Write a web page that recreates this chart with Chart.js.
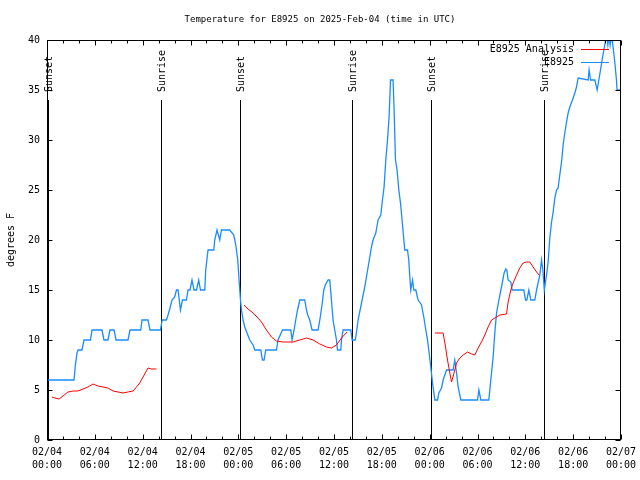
<!DOCTYPE html>
<html><head><meta charset="utf-8">
<script src="https://cdn.jsdelivr.net/npm/chart.js@4/dist/chart.umd.min.js"></script>
<style>html,body{margin:0;padding:0;background:#fff}#wrap{width:640px;height:480px}</style>
</head><body><div id="wrap"><canvas id="c" width="640" height="480"></canvas></div>
<script>
const chartTitle = "Temperature for E8925 on 2025-Feb-04 (time in UTC)";
const yAxisTitle = "degrees F";
const xTickLabels = [["02/04","00:00"],["02/04","06:00"],["02/04","12:00"],["02/04","18:00"],
  ["02/05","00:00"],["02/05","06:00"],["02/05","12:00"],["02/05","18:00"],
  ["02/06","00:00"],["02/06","06:00"],["02/06","12:00"],["02/06","18:00"],["02/07","00:00"]];
const seriesNames = ["E8925 Analysis", "E8925"];
const sunHours = [0.13, 14.3, 24.2, 38.27, 48.15, 62.3];
const sunLabels = ["Sunset","Sunrise","Sunset","Sunrise","Sunset","Sunrise"];

// observed (hours since 02/04 00:00 UTC)
const obsHours = [0,3.39,3.56,3.76,3.89,4.39,4.64,5.45,5.65,6.90,7.15,7.65,7.90,8.41,8.66,10.16,10.41,11.76,11.92,12.67,12.92,14.23,14.45,14.98,15.18,15.40,15.68,16.02,16.24,16.44,16.74,16.99,17.49,17.69,17.94,18.19,18.44,18.75,19.03,19.25,19.79,19.91,20.20,20.92,21.04,21.33,21.67,21.88,22.92,23.43,23.68,23.93,24.09,24.27,24.39,24.59,24.81,25.09,25.43,25.85,26.06,26.81,27.03,27.23,27.44,28.78,28.98,29.54,30.58,30.74,30.99,31.20,31.42,31.71,32.33,32.55,32.71,32.96,33.25,34.00,34.22,34.50,34.72,34.91,35.26,35.47,35.68,35.88,36.09,36.31,36.44,36.85,36.94,37.14,38.11,38.27,38.67,38.86,39.02,39.45,39.86,40.28,40.70,40.90,41.24,41.53,41.87,42.03,42.28,42.50,42.71,42.91,43.09,43.41,43.54,43.71,43.91,44.13,44.34,44.54,44.76,44.88,45.22,45.38,45.51,45.63,45.85,46.01,46.26,46.55,46.98,47.26,47.52,47.73,47.93,48.14,48.36,48.65,48.99,49.15,49.49,49.69,50.11,50.94,51.15,51.37,51.57,51.91,54.00,54.17,54.42,55.42,55.63,55.96,56.17,56.39,56.68,57.01,57.34,57.55,57.68,57.84,58.18,58.34,59.81,60.03,60.19,60.44,60.69,61.19,61.41,61.82,62.03,62.20,62.38,62.66,62.86,63.07,63.29,63.49,63.70,63.91,64.11,64.32,64.54,64.74,64.95,65.17,65.37,65.58,66.00,66.21,66.42,66.62,67.88,68.00,68.18,68.72,69.01,69.22,69.43,69.69,69.85,70.19,70.35,70.49,70.64,70.82,71.02,71.22,71.43,71.51,72];
const obsTemps = [6,6,7.5,8.7,9,9,10,10,11,11,10,10,11,11,10,10,11,11,12,12,11,11,12,12,12.5,13.1,14,14.3,15,15,13,14,14,15,15,16,15,15,16,15,15,17,19,19,20,21,20,21,21,20.5,19.5,18,16,14,13,12,11.3,10.7,10,9.5,9,9,8,8,9,9,10,11,11,10,11,12,13,14,14,13,12.5,12,11,11,12,13.5,15,15.5,16,16,14,12,11,10,9,9,10,11,11,10,10,11,12,13.7,15.3,17.3,19.3,20,20.7,22,22.5,23.7,25.3,28,30,32.3,36,36,33,28,27,25,23.7,22,20,19,19,18,16.3,15,16,15,15,14,13.5,12.3,11,10,8.7,7.3,5.7,4,4,4.7,5.2,6,7,7,8,6.7,5.3,4,4,5,4,4,5.7,8.3,10.7,12.7,14,15.3,16.7,17.1,17,16,15.8,15,15,14,14,15,14,14,15,16.5,18,17,15,16.5,17.8,20.2,21.8,22.8,24.2,25,25.2,26.5,27.8,29.5,30.7,31.8,32.7,33.3,34.2,34.7,35.3,36.2,36,37,36,36,35,36,37,38.3,39,40.5,39.5,40.5,39.5,40.5,39.2,37.8,36,35,35];

// analysis (null = no value)
const anaHours = [0.63,0.97,1.51,2.01,2.63,3.26,3.89,4.52,5.14,5.77,6.40,7.03,7.65,8.28,8.91,9.54,10.16,10.79,11.22,11.63,12.05,12.67,13.10,13.73,19,
  24.72,25.22,25.85,26.47,26.90,27.53,28.16,28.78,29.61,30.87,31.71,32.55,33.38,34.22,35.06,35.68,36.31,36.94,37.64,43,
  48.65,49.69,49.99,50.24,50.53,50.74,50.99,51.37,51.78,52.20,52.75,53.25,53.66,54.08,54.50,54.92,55.33,55.76,56.17,56.80,57.64,57.84,58.18,58.47,58.90,59.31,59.72,60.15,60.56,60.98,61.41,61.73];
const anaTemps = [4.3,4.2,4.1,4.4,4.8,4.9,4.9,5.1,5.3,5.6,5.4,5.3,5.2,4.9,4.8,4.7,4.8,4.9,5.3,5.7,6.3,7.2,7.1,7.1,null,
  13.5,13.1,12.7,12.2,11.8,11,10.3,9.9,9.8,9.8,10,10.2,10,9.6,9.3,9.2,9.5,10.2,10.8,null,
  10.7,10.7,9.3,8,6.7,5.8,6.5,7.7,8.2,8.5,8.8,8.6,8.5,9.2,9.8,10.5,11.3,12,12.2,12.5,12.6,13.8,15,15.7,16.5,17.2,17.7,17.8,17.8,17.3,16.8,16.5];

const colors = ["#ff0000", "#1a8cff"];
const FONT = "'DejaVu Sans Mono', monospace";

const decor = {
  id: 'decor',
  beforeDatasetsDraw(chart) {
    const {ctx, chartArea: a, scales: {x, y}} = chart;
    ctx.save();
    ctx.strokeStyle = '#000'; ctx.lineWidth = 1;
    ctx.fillStyle = '#000';
    ctx.font = '10px ' + FONT;
    sunHours.forEach((h, i) => {
      const px = Math.round(x.getPixelForValue(h)) + 0.5;
      ctx.beginPath(); ctx.moveTo(px, y.getPixelForValue(0)); ctx.lineTo(px, y.getPixelForValue(34)); ctx.stroke();
      ctx.save();
      ctx.translate(px + 1, y.getPixelForValue(34.8));
      ctx.rotate(-Math.PI / 2);
      ctx.textAlign = 'left'; ctx.textBaseline = 'middle';
      ctx.fillText(sunLabels[i], 0, 0);
      ctx.restore();
    });
    ctx.restore();
  },
  afterDraw(chart) {
    const {ctx, chartArea: a, scales: {x, y}} = chart;
    ctx.save();
    ctx.strokeStyle = '#000'; ctx.lineWidth = 1;
    const L = a.left + 0.5, R = a.right - 0.5, T = a.top + 0.5, B = a.bottom - 0.5;
    ctx.strokeRect(L, T, R - L, B - T);
    ctx.beginPath();
    for (let h = 0; h <= 72; h += 2) {
      const px = Math.round(x.getPixelForValue(h)) + 0.5;
      const len = (h % 6 === 0) ? 5 : 3;
      ctx.moveTo(px, B); ctx.lineTo(px, B - len);
      ctx.moveTo(px, T); ctx.lineTo(px, T + len);
    }
    for (let v = 0; v <= 40; v += 5) {
      const py = Math.round(y.getPixelForValue(v)) + 0.5;
      ctx.moveTo(L, py); ctx.lineTo(L + 5, py);
      ctx.moveTo(R, py); ctx.lineTo(R - 5, py);
    }
    ctx.stroke();
    ctx.fillStyle = '#000';
    ctx.textAlign = 'center'; ctx.textBaseline = 'middle';
    ctx.font = '9px ' + FONT;
    ctx.fillText(chartTitle, 320, 20);
    ctx.font = '10px ' + FONT;
    ctx.save();
    ctx.translate(11, 240); ctx.rotate(-Math.PI / 2);
    ctx.fillText(yAxisTitle, 0, 0);
    ctx.restore();
    // legend
    ctx.textAlign = 'right';
    const ly = [49.5, 62.5];
    seriesNames.forEach((n, i) => {
      ctx.fillStyle = '#000';
      ctx.fillText(n, 574, ly[i]);
      ctx.strokeStyle = colors[i];
      ctx.beginPath(); ctx.moveTo(581, ly[i]); ctx.lineTo(609, ly[i]); ctx.stroke();
    });
    ctx.restore();
  }
};

Chart.defaults.font.family = FONT;
Chart.defaults.font.size = 10;
Chart.defaults.color = '#000';

new Chart(document.getElementById('c'), {
  type: 'line',
  data: {
    datasets: [
      { label: seriesNames[0], data: anaHours.map((h, i) => ({x: h, y: anaTemps[i]})),
        borderColor: colors[0], borderWidth: 1, pointRadius: 0, spanGaps: false, tension: 0 },
      { label: seriesNames[1], data: obsHours.map((h, i) => ({x: h, y: obsTemps[i]})),
        borderColor: colors[1], borderWidth: 1.3, pointRadius: 0, tension: 0 }
    ]
  },
  options: {
    responsive: false, animation: false, devicePixelRatio: 1,
    layout: { padding: { left: 0, right: 19, top: 40, bottom: 0 } },
    plugins: { legend: { display: false }, title: { display: false }, tooltip: { enabled: false } },
    scales: {
      x: { type: 'linear', min: 0, max: 72,
        ticks: { stepSize: 6, autoSkip: false, maxRotation: 0, padding: 6,
          font: { size: 10, lineHeight: 1.3 },
          callback: (v) => xTickLabels[Math.round(v / 6)] },
        grid: { display: false, drawTicks: false }, border: { display: false },
        afterFit: (s) => { s.height = 40; s.paddingLeft = 0; s.paddingRight = 0; } },
      y: { min: 0, max: 40,
        ticks: { stepSize: 5, padding: 7, font: { size: 10 } },
        grid: { display: false, drawTicks: false }, border: { display: false },
        afterFit: (s) => { s.width = 47; s.paddingTop = 0; s.paddingBottom = 0; } }
    }
  },
  plugins: [decor]
});
</script></body></html>
